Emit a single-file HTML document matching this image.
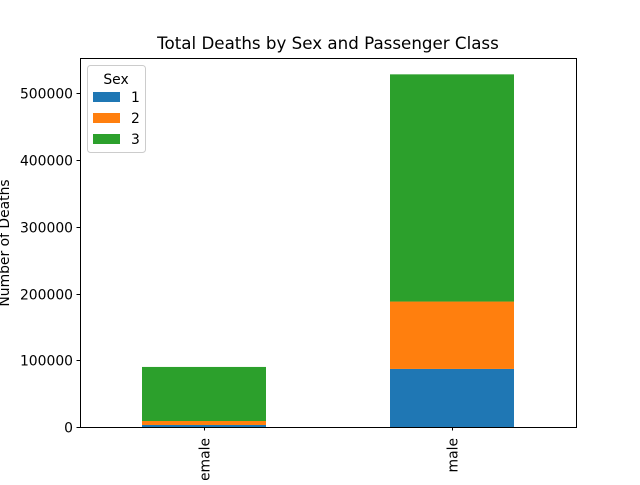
<!DOCTYPE html>
<html><head><meta charset="utf-8"><style>
body{margin:0;background:#fff;overflow:hidden}
svg text{font-family:"DejaVu Sans","Liberation Sans",sans-serif;fill:#000}
</style></head><body>
<svg id="chart" width="640" height="480" xmlns="http://www.w3.org/2000/svg">
<rect width="640" height="480" fill="#fff"/>
<text x="328" y="49" font-size="16.7" text-anchor="middle">Total Deaths by Sex and Passenger Class</text>
<g id="bars"></g>
<g id="axes"></g>
<text transform="translate(9,243) rotate(-90)" font-size="13.9" text-anchor="middle">Number of Deaths</text>
<g>
<rect x="87.5" y="65.5" width="58" height="87" rx="3" fill="#fff" fill-opacity="0.8" stroke="#ccc"/>
<text x="116" y="84" font-size="13.9" text-anchor="middle">Sex</text>
<rect x="93" y="92" width="27" height="10" fill="#1f77b4"/>
<text x="131" y="102" font-size="13.9">1</text>
<rect x="93" y="113" width="27" height="10" fill="#ff7f0e"/>
<text x="131" y="123" font-size="13.9">2</text>
<rect x="93" y="134" width="27" height="10" fill="#2ca02c"/>
<text x="131" y="144" font-size="13.9">3</text>
</g>
</svg>
<script>
const categories = ["female", "male"];
const class1 = [3000, 87000];
const class2 = [6000, 101000];
const class3 = [81000, 340500];
const yTicks = [0, 100000, 200000, 300000, 400000, 500000];
const seriesColors = ["#1f77b4", "#ff7f0e", "#2ca02c"];

const NS = "http://www.w3.org/2000/svg";
const L = 80, R = 576, T = 58, B = 427;
const yMax = 553000;
function y(v){ return B - v / yMax * (B - T); }
function xc(i){ return L + (i + 0.5) / categories.length * (R - L); }
const barW = 124;
const bars = document.getElementById('bars');
const axes = document.getElementById('axes');
const series = [class1, class2, class3];
function mk(tag, attrs, parent){ const e = document.createElementNS(NS, tag); for (const k in attrs) e.setAttribute(k, attrs[k]); parent.appendChild(e); return e; }
categories.forEach((c, i) => {
  let base = 0;
  series.forEach((s, j) => {
    const r = mk('rect', {x: xc(i) - barW/2, y: y(base + s[i]), width: barW, height: y(base) - y(base + s[i]), fill: seriesColors[j]}, bars);
    
    
    base += s[i];
  });
});
const frame = mk('rect', {x: L+0.5, y: T+0.5, width: R-L, height: B-T, fill: 'none', stroke: '#000', 'stroke-width': 1}, axes);


yTicks.forEach(t => {
  const yy = Math.round(y(t)) + 0.5;
  mk('line', {x1: L - 3.5, x2: L, y1: yy, y2: yy, stroke: '#000'}, axes);
  const tx = mk('text', {x: L - 7, y: yy + 5, 'font-size': 13.9, 'text-anchor': 'end'}, axes);
  tx.textContent = t;
  
  
});
categories.forEach((c, i) => {
  const xx = Math.round(xc(i)) + 0.5;
  mk('line', {x1: xx, x2: xx, y1: B, y2: B + 3.5, stroke: '#000'}, axes);
  const tx = mk('text', {transform: 'translate(' + (xx + 5) + ',' + (B + 11) + ') rotate(-90)', 'font-size': 13.9, 'text-anchor': 'end'}, axes);
  tx.textContent = c;
  
  
});
</script>
</body></html>
